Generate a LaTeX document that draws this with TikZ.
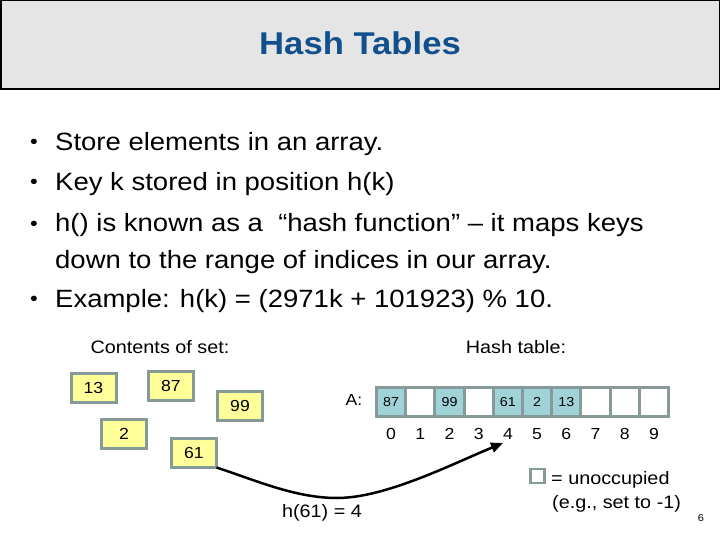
\documentclass[tikz,border=0pt]{standalone}
\usepackage{fontspec}
\setmainfont{Liberation Sans}[FakeStretch=1.1]
\usetikzlibrary{positioning,arrows.meta}

\definecolor{titleblue}{HTML}{11508C}
\definecolor{titlegray}{HTML}{E5E5E5}
\definecolor{boxgray}{HTML}{869A9A}
\definecolor{setyellow}{HTML}{FFFF99}
\definecolor{cellteal}{HTML}{A0D3D8}

\newcommand*{\cellw}{29.2}
\newcommand*{\arrx}{376.5}
\newcommand*{\rowy}{402}

\begin{document}
\begin{tikzpicture}
[
	x=1pt, y=-1pt,
	setbox/.style={draw=boxgray,fill=setyellow,line width=3pt,inner sep=0pt,outer sep=0pt,minimum width=45pt,minimum height=29pt,font=\fontsize{16}{18}\selectfont},
	cell/.style={draw=boxgray,line width=3pt,inner sep=0pt,outer sep=0pt,minimum width=\cellw pt,minimum height=29.3pt,font=\fontsize{13}{15}\selectfont},
	fullcell/.style={fill=cellteal},
	freecell/.style={fill=white},
	idx/.style={inner sep=0pt,font=\fontsize{16}{18}\selectfont},
	bodytext/.style={anchor=base west,inner sep=0pt,font=\fontsize{25}{30}\selectfont},
	bulletmark/.style={anchor=base,inner sep=0pt,font=\fontsize{20}{24}\selectfont},
	smalltext/.style={inner sep=0pt,font=\fontsize{18}{22}\selectfont}
]
	\useasboundingbox (0,0) rectangle (720,540);

	% title
	\draw[fill=titlegray,line width=1.5pt] (0.75,0.75) rectangle (719.25,89);
	\node[anchor=base,inner sep=0pt,text=titleblue,font=\fontsize{31.5}{36}\bfseries] (title) at (360,55) {Hash Tables};

	% bullets
	\node[bulletmark] (b1) at (34,149) {•};
	\node[bodytext] (t1) at (55,151) {Store elements in an array.};
	\node[bulletmark] (b2) at (34,189) {•};
	\node[bodytext] (t2) at (55,191) {Key k stored in position h(k)};
	\node[bulletmark] (b3) at (34,230) {•};
	\node[bodytext] (t3) at (55,232) {h() is known as a\ \ “hash function” – it maps keys};
	\node[bodytext] (t4) at (55,268) {down to the range of indices in our array.};
	\node[bulletmark] (b5) at (34,305) {•};
	\node[bodytext] (t5) at (55,307) {Example: h(k) = (2971k + 101923) \% 10.};

	% set
	\node[smalltext] (settitle) at (160,347) {Contents of set:};
	\node[setbox] (s13) at (93.5,387.5) {13};
	\node[setbox] (s87) at (171,386) {87};
	\node[setbox] (s99) at (240,406) {99};
	\node[setbox] (s2) at (124,434) {2};
	\node[setbox] (s61) at (194,453) {61};

	% hash table
	\node[smalltext] (tabletitle) at (516,347) {Hash table:};
	\node[inner sep=0pt,font=\fontsize{16}{18}\selectfont] (alabel) at (354,400) {A:};
	\foreach \v/\st [count=\i from 0] in {87/fullcell,{}/freecell,99/fullcell,{}/freecell,61/fullcell,2/fullcell,13/fullcell,{}/freecell,{}/freecell,{}/freecell}
	{
		\node[cell,\st] (c\i) at ({\arrx+\cellw*(\i+0.5)},\rowy) {\v};
		\node[idx] (n\i) at ({\arrx+\cellw*(\i+0.5)},434) {\i};
	}

	% h(61)
	\coordinate (tip) at (503,443);
	\draw[line width=2.5pt,-{Triangle[length=12pt,width=10pt]}] (s61.south east) .. controls (255,480) and (295,498) .. (337,498) .. controls (385,498) and (450,465) .. (tip);
	\node[smalltext] (hval) at (322,513) {h(61) = 4};

	% legend
	\node[draw=boxgray,fill=white,line width=2.5pt,inner sep=0pt,outer sep=0pt,minimum size=14pt] (key) at (537.5,476) {};
	\node[smalltext,anchor=base west] (keytext) at (551,484) {= unoccupied};
	\node[smalltext,anchor=base west] (keynote) at (552,508) {(e.g., set to -1)};

	\node[inner sep=0pt,font=\fontsize{10}{12}\selectfont] (page) at (701,518) {6};

\end{tikzpicture}
\end{document}
